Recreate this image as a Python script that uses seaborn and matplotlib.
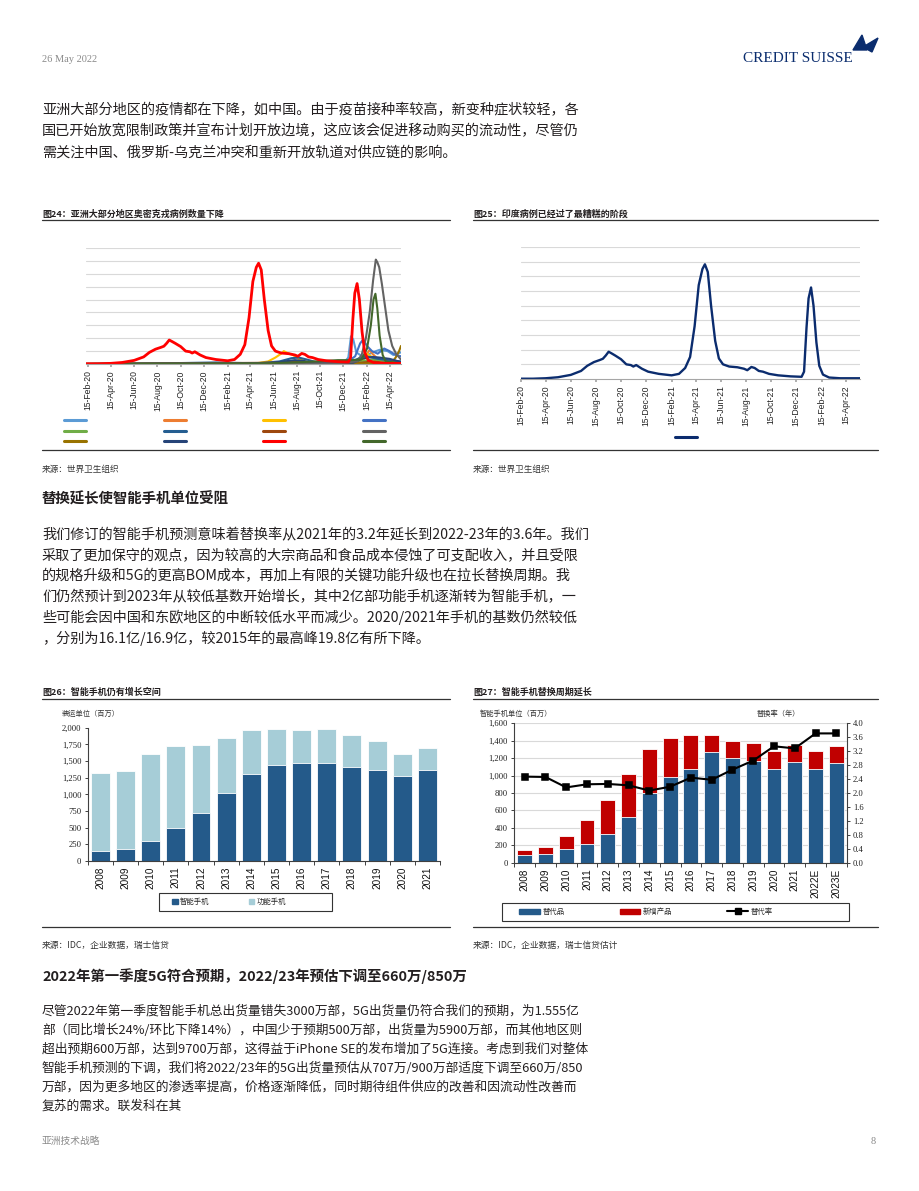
"""Recreation of a Credit Suisse research page: COVID curves and smartphone charts."""

import matplotlib

matplotlib.use("Agg")
import matplotlib.dates as mdates
import matplotlib.pyplot as plt
import pandas as pd
import seaborn as sns
from matplotlib.lines import Line2D
from matplotlib.patches import Patch, Polygon, Rectangle

# ---------------------------------------------------------------- data
# Fig 24/25: weekly cases, in gridline units (axis has no labels)
INDIA = [
    ("2020-02-10", 0.02), ("2020-03-15", 0.02), ("2020-04-15", 0.05), ("2020-05-15", 0.12),
    ("2020-06-15", 0.28), ("2020-07-10", 0.55), ("2020-07-25", 0.9), ("2020-08-10", 1.15),
    ("2020-08-25", 1.3), ("2020-09-01", 1.38), ("2020-09-08", 1.6), ("2020-09-15", 1.86),
    ("2020-09-22", 1.75), ("2020-10-01", 1.6), ("2020-10-15", 1.35), ("2020-10-28", 1.0),
    ("2020-11-08", 0.95), ("2020-11-14", 0.85), ("2020-11-21", 0.95), ("2020-12-05", 0.7),
    ("2020-12-20", 0.5), ("2021-01-15", 0.35), ("2021-02-15", 0.25), ("2021-03-05", 0.35),
    ("2021-03-20", 0.75), ("2021-04-01", 1.5), ("2021-04-12", 3.6), ("2021-04-22", 6.4),
    ("2021-05-01", 7.5), ("2021-05-07", 7.82), ("2021-05-14", 7.3), ("2021-05-22", 5.0),
    ("2021-06-01", 2.6), ("2021-06-10", 1.4), ("2021-06-20", 1.0), ("2021-07-05", 0.85),
    ("2021-07-25", 0.8), ("2021-08-10", 0.7), ("2021-08-18", 0.6), ("2021-08-28", 0.82),
    ("2021-09-05", 0.75), ("2021-09-15", 0.55), ("2021-09-25", 0.5), ("2021-10-10", 0.35),
    ("2021-11-01", 0.25), ("2021-12-01", 0.18), ("2021-12-28", 0.15), ("2022-01-03", 0.5),
    ("2022-01-09", 3.5), ("2022-01-14", 5.5), ("2022-01-20", 6.24), ("2022-01-26", 5.0),
    ("2022-02-02", 2.5), ("2022-02-09", 0.9), ("2022-02-18", 0.3), ("2022-03-05", 0.1),
    ("2022-04-01", 0.05), ("2022-05-19", 0.05),
]
LIGHTBLUE = [
    ("2020-02-10", 0.0), ("2020-08-01", 0.05), ("2020-09-15", 0.02), ("2021-12-15", 0.05),
    ("2021-12-28", 0.5), ("2022-01-04", 2.15), ("2022-01-10", 1.9), ("2022-01-18", 0.9),
    ("2022-01-28", 0.7), ("2022-02-10", 0.6), ("2022-03-01", 0.9), ("2022-03-20", 1.1),
    ("2022-04-10", 1.0), ("2022-04-25", 0.7), ("2022-05-15", 0.9),
]
ORANGE = [
    ("2020-02-10", 0.0), ("2022-01-25", 0.05), ("2022-02-10", 0.6), ("2022-02-22", 1.1),
    ("2022-03-01", 0.8), ("2022-03-15", 0.4), ("2022-04-10", 0.15), ("2022-05-15", 0.1),
]
GOLD = [
    ("2020-02-10", 0.0), ("2021-05-01", 0.05), ("2021-06-01", 0.2), ("2021-06-20", 0.5),
    ("2021-07-05", 0.8), ("2021-07-12", 1.0), ("2021-07-22", 0.85), ("2021-08-05", 0.7),
    ("2021-08-20", 0.4), ("2021-09-10", 0.15), ("2021-10-15", 0.05), ("2022-01-20", 0.05),
    ("2022-02-05", 0.3), ("2022-02-15", 0.8), ("2022-02-25", 0.6), ("2022-03-10", 0.2),
    ("2022-04-01", 0.05), ("2022-05-15", 0.03),
]
BLUE = [
    ("2020-02-10", 0.0), ("2021-12-20", 0.05), ("2022-01-15", 0.6), ("2022-01-28", 1.6),
    ("2022-02-05", 1.9), ("2022-02-15", 1.4), ("2022-02-28", 1.0), ("2022-03-15", 0.8),
    ("2022-04-01", 1.2), ("2022-04-15", 1.0), ("2022-05-01", 0.7), ("2022-05-15", 0.6),
]
GREEN = [
    ("2020-02-10", 0.0), ("2021-10-01", 0.1), ("2021-12-15", 0.15), ("2022-02-01", 0.2),
    ("2022-03-01", 0.35), ("2022-03-20", 0.3), ("2022-04-15", 0.15), ("2022-05-15", 0.1),
]
DARKBLUE = [
    ("2020-02-10", 0.0), ("2020-09-01", 0.05), ("2021-01-15", 0.12), ("2021-02-15", 0.1),
    ("2021-05-01", 0.05), ("2021-07-01", 0.2), ("2021-08-01", 0.45), ("2021-08-20", 0.5),
    ("2021-09-10", 0.35), ("2021-10-10", 0.1), ("2021-12-01", 0.05), ("2022-01-15", 0.3),
    ("2022-02-05", 0.6), ("2022-02-20", 0.55), ("2022-03-15", 0.4), ("2022-04-10", 0.3),
    ("2022-05-15", 0.2),
]
BROWN = [
    ("2020-02-10", 0.0), ("2021-07-01", 0.1), ("2021-08-15", 0.2), ("2021-10-01", 0.05),
    ("2022-02-01", 0.1), ("2022-03-01", 0.2), ("2022-04-01", 0.1), ("2022-05-15", 0.05),
]
GREY = [
    ("2020-02-10", 0.0), ("2021-12-01", 0.05), ("2022-01-20", 0.2), ("2022-02-01", 0.7),
    ("2022-02-12", 2.0), ("2022-02-22", 4.0), ("2022-03-03", 6.5), ("2022-03-10", 8.1),
    ("2022-03-14", 7.9), ("2022-03-19", 7.5), ("2022-03-26", 6.2), ("2022-04-03", 4.5),
    ("2022-04-12", 2.6), ("2022-04-22", 1.4), ("2022-05-02", 0.8), ("2022-05-15", 0.35),
]
OLIVE = [
    ("2020-02-10", 0.0), ("2022-03-15", 0.05), ("2022-04-20", 0.1), ("2022-05-01", 0.5),
    ("2022-05-10", 1.0), ("2022-05-15", 1.4),
]
NAVY = [
    ("2020-02-10", 0.0), ("2021-06-01", 0.05), ("2021-08-10", 0.3), ("2021-09-01", 0.25),
    ("2021-10-01", 0.05), ("2022-01-10", 0.1), ("2022-02-01", 0.4), ("2022-03-01", 0.55),
    ("2022-03-20", 0.5), ("2022-04-15", 0.4), ("2022-05-15", 0.15),
]
DARKGREEN = [
    ("2020-02-10", 0.0), ("2021-06-01", 0.05), ("2021-09-01", 0.15), ("2021-11-01", 0.25),
    ("2021-12-01", 0.3), ("2022-01-01", 0.3), ("2022-02-01", 0.35), ("2022-02-15", 1.2),
    ("2022-02-25", 3.0), ("2022-03-04", 5.0), ("2022-03-09", 5.45), ("2022-03-14", 4.3),
    ("2022-03-20", 2.2), ("2022-03-28", 0.7), ("2022-04-05", 0.2), ("2022-05-15", 0.05),
]

# Fig 26: shipments (mn units)
YEARS26 = ["2008", "2009", "2010", "2011", "2012", "2013", "2014",
           "2015", "2016", "2017", "2018", "2019", "2020", "2021"]
SMARTPHONE = [155, 175, 305, 495, 725, 1020, 1300, 1437, 1473, 1465, 1405, 1372, 1280, 1360]
FEATURE = [1165, 1175, 1295, 1225, 1020, 830, 670, 543, 497, 515, 485, 428, 330, 330]

# Fig 27: smartphone units (mn) and replacement cycle (years)
YEARS27 = YEARS26 + ["2022E", "2023E"]
REPLACEMENT = [85, 105, 155, 215, 335, 520, 800, 985, 1070, 1265, 1205, 1170, 1080, 1160, 1080, 1140]
NEW_UNITS = [60, 70, 150, 280, 390, 495, 500, 450, 400, 200, 195, 200, 200, 195, 205, 200]
REPLACE_RATE = [2.47, 2.46, 2.16, 2.25, 2.26, 2.22, 2.07, 2.18, 2.44, 2.38,
                2.67, 2.93, 3.34, 3.28, 3.71, 3.71]

# ---------------------------------------------------------------- style
sns.set_theme(style="white")
plt.rcParams["font.family"] = ["Noto Sans CJK SC", "DejaVu Sans"]
plt.rcParams["axes.unicode_minus"] = False

W, H = 920, 1191
TXT = "#231F20"
SANS = ["Liberation Sans", "DejaVu Sans"]
SERIF = ["Liberation Serif", "DejaVu Serif"]

fig = plt.figure(figsize=(W / 100, H / 100), dpi=100)


def fx(px):
    return px / W


def fy(py):
    return 1 - py / H


def box(left, top, right, bottom):
    return [fx(left), fy(bottom), (right - left) / W, (bottom - top) / H]


def put(x, y, s, size, **kw):
    kw.setdefault("color", TXT)
    fig.text(fx(x), fy(y), s, fontsize=size, va="center", ha="left", **kw)


def rule(x0, x1, y, lw=0.9, color="#333333"):
    fig.add_artist(Line2D([fx(x0), fx(x1)], [fy(y), fy(y)], color=color, lw=lw,
                          transform=fig.transFigure))


# ---------------------------------------------------------------- page text
put(42, 60, "26 May 2022", 7.5, color="#8A8A8A", family=SERIF)
put(743, 58, "CREDIT SUISSE", 11, color="#0B2D6E", family=SERIF)
for pts in ([(853, 50), (862, 35), (867, 50)], [(863, 47), (878, 38), (872, 52)]):
    fig.add_artist(Polygon([(fx(a), fy(b)) for a, b in pts], closed=True,
                           color="#0B2D6E", transform=fig.transFigure))

para1 = [
    "亚洲大部分地区的疫情都在下降，如中国。由于疫苗接种率较高，新变种症状较轻，各",
    "国已开始放宽限制政策并宣布计划开放边境，这应该会促进移动购买的流动性，尽管仍",
    "需关注中国、俄罗斯-乌克兰冲突和重新开放轨道对供应链的影响。",
]
for i, line in enumerate(para1):
    put(42, 110 + i * 21.5, line, 10.2)

put(42, 499, "替换延长使智能手机单位受阻", 10.4, weight="bold")
para2 = [
    "我们修订的智能手机预测意味着替换率从2021年的3.2年延长到2022-23年的3.6年。我们",
    "采取了更加保守的观点，因为较高的大宗商品和食品成本侵蚀了可支配收入，并且受限",
    "的规格升级和5G的更高BOM成本，再加上有限的关键功能升级也在拉长替换周期。我",
    "们仍然预计到2023年从较低基数开始增长，其中2亿部功能手机逐渐转为智能手机，一",
    "些可能会因中国和东欧地区的中断较低水平而减少。2020/2021年手机的基数仍然较低",
    "，分别为16.1亿/16.9亿，较2015年的最高峰19.8亿有所下降。",
]
for i, line in enumerate(para2):
    put(42, 535 + i * 20.7, line, 10.2)

put(42, 976, "2022年第一季度5G符合预期，2022/23年预估下调至660万/850万", 10.4, weight="bold")
para3 = [
    "尽管2022年第一季度智能手机总出货量错失3000万部，5G出货量仍符合我们的预期，为1.555亿",
    "部（同比增长24%/环比下降14%），中国少于预期500万部，出货量为5900万部，而其他地区则",
    "超出预期600万部，达到9700万部，这得益于iPhone SE的发布增加了5G连接。考虑到我们对整体",
    "智能手机预测的下调，我们将2022/23年的5G出货量预估从707万/900万部适度下调至660万/850",
    "万部，因为更多地区的渗透率提高，价格逐渐降低，同时期待组件供应的改善和因流动性改善而",
    "复苏的需求。联发科在其",
]
for i, line in enumerate(para3):
    put(42, 1011 + i * 19, line, 9.2)

put(42, 1141, "亚洲技术战略", 7, color="#8A8A8A")
put(871, 1141, "8", 7.5, color="#8A8A8A", family=SERIF)

# chart frames
put(42, 214, "图24：亚洲大部分地区奥密克戎病例数量下降", 6.5, weight="bold")
put(473, 214, "图25：印度病例已经过了最糟糕的阶段", 6.5, weight="bold")
rule(42, 450, 220)
rule(473, 878, 220)
rule(42, 450, 450)
rule(473, 878, 450)
put(42, 469, "来源：世界卫生组织", 6.2, color="#333333")
put(473, 469, "来源：世界卫生组织", 6.2, color="#333333")

put(42, 692, "图26：智能手机仍有增长空间", 6.5, weight="bold")
put(473, 692, "图27：智能手机替换周期延长", 6.5, weight="bold")
rule(42, 450, 699)
rule(473, 878, 699)
rule(42, 450, 927)
rule(473, 878, 927)
put(42, 945, "来源：IDC，企业数据，瑞士信贷", 6.3, color="#333333")
put(473, 945, "来源：IDC，企业数据，瑞士信贷估计", 6.3, color="#333333")


# ---------------------------------------------------------------- covid charts
def to_frame(name, points):
    df = pd.DataFrame(points, columns=["date", "cases"])
    df["date"] = pd.to_datetime(df["date"])
    df["series"] = name
    return df


def style_dates(ax, start, end):
    ax.set_xlim(pd.Timestamp(start), pd.Timestamp(end))
    ax.set_ylim(0, 9)
    ax.set_yticks(range(1, 10))
    ax.yaxis.grid(True, color="#D9D9D9", lw=0.8)
    ax.xaxis.grid(False)
    ax.xaxis.set_major_locator(mdates.MonthLocator(bymonth=[2, 4, 6, 8, 10, 12], bymonthday=15))
    ax.xaxis.set_major_formatter(mdates.DateFormatter("%d-%b-%y"))
    ax.tick_params(axis="y", length=0, labelleft=False)
    ax.tick_params(axis="x", bottom=True, length=2.5, color="#A6A6A6", pad=2,
                   labelsize=6.2, labelrotation=90, labelcolor="#222222")
    for lab in ax.get_xticklabels():
        lab.set_family(SANS)
    for side in ("left", "right", "top"):
        ax.spines[side].set_visible(False)
    ax.spines["bottom"].set_color("#A6A6A6")
    ax.spines["bottom"].set_linewidth(0.8)
    ax.set_xlabel("")
    ax.set_ylabel("")


PALETTE24 = {
    "lightblue": "#5B9BD5", "orange": "#ED7D31", "gold": "#FFC000", "blue": "#4472C4",
    "green": "#70AD47", "darkblue": "#255E91", "brown": "#9E480E", "grey": "#636363",
    "olive": "#997300", "navy": "#264478", "india": "#FF0000", "darkgreen": "#43682B",
}
SERIES24 = {
    "lightblue": LIGHTBLUE, "orange": ORANGE, "gold": GOLD, "blue": BLUE, "green": GREEN,
    "darkblue": DARKBLUE, "brown": BROWN, "olive": OLIVE, "navy": NAVY, "grey": GREY,
    "darkgreen": DARKGREEN, "india": INDIA,
}
df24 = pd.concat([to_frame(k, v) for k, v in SERIES24.items()], ignore_index=True)

ax24 = fig.add_axes(box(86, 248, 401, 364))
minor = [k for k in SERIES24 if k != "india"]
sns.lineplot(data=df24[df24["series"] != "india"], x="date", y="cases", hue="series",
             hue_order=minor, palette=PALETTE24, estimator=None, legend=False,
             linewidth=1.5, ax=ax24)
sns.lineplot(data=df24[df24["series"] == "india"], x="date", y="cases",
             color=PALETTE24["india"], estimator=None, linewidth=2.0, ax=ax24)
style_dates(ax24, "2020-02-10", "2022-05-15")

# legend with blank labels, filled row by row (4 columns x 3 rows)
rows = [["lightblue", "orange", "gold", "blue"],
        ["green", "darkblue", "brown", "grey"],
        ["olive", "navy", "india", "darkgreen"]]
col_major = [rows[r][c] for c in range(4) for r in range(3)]
handles = [Line2D([], [], color=PALETTE24[k], lw=2.2) for k in col_major]
fig.legend(handles, [""] * len(handles), ncol=4, loc="upper left", frameon=False,
           bbox_to_anchor=(fx(64), fy(416)), bbox_transform=fig.transFigure,
           fontsize=6, handlelength=2.64, handletextpad=0, columnspacing=9.3,
           labelspacing=0.2, borderpad=0, borderaxespad=0)

ax25 = fig.add_axes(box(521, 247, 860, 379))
sns.lineplot(data=to_frame("india", INDIA), x="date", y="cases", color="#0B2C6E",
             estimator=None, linewidth=1.7, ax=ax25)
style_dates(ax25, "2020-02-15", "2022-05-19")
fig.legend([Line2D([], [], color="#0B2C6E", lw=2.2)], [""], loc="upper left",
           frameon=False, bbox_to_anchor=(fx(675), fy(433)), bbox_transform=fig.transFigure,
           fontsize=6, handlelength=2.6, handletextpad=0, borderpad=0, borderaxespad=0)


# ---------------------------------------------------------------- smartphone charts
def style_bars(ax, labels):
    ax.set_xlim(-0.5, len(labels) - 0.5)
    ax.set_xticks(range(len(labels)))
    ax.set_xticklabels(labels, rotation=90, fontsize=7.2, family=SANS, color="#111111")
    ax.set_xticks([i + 0.5 for i in range(-1, len(labels))], minor=True)
    ax.tick_params(axis="x", which="major", bottom=True, length=0, pad=4)
    ax.tick_params(axis="x", which="minor", bottom=True, length=3, color="#404040", width=0.7)
    ax.tick_params(axis="y", left=True, length=2.5, color="#404040", width=0.7, pad=2,
                   labelsize=6.2, labelcolor="#222222")
    for lab in ax.get_yticklabels():
        lab.set_family(SERIF)
    for side in ("top", "right"):
        ax.spines[side].set_visible(False)
    for side in ("left", "bottom"):
        ax.spines[side].set_color("#404040")
        ax.spines[side].set_linewidth(0.8)
    ax.set_xlabel("")
    ax.set_ylabel("")


DARK_BLUE = "#245A8A"
LIGHT_BLUE = "#A6CDD7"
RED = "#C00000"

# Fig 26
total26 = [s + f for s, f in zip(SMARTPHONE, FEATURE)]
ax26 = fig.add_axes(box(87.7, 727.7, 440, 861))
sns.barplot(x=YEARS26, y=total26, color=LIGHT_BLUE, saturation=1, width=0.75,
            edgecolor="white", linewidth=0.6, ax=ax26)
sns.barplot(x=YEARS26, y=SMARTPHONE, color=DARK_BLUE, saturation=1, width=0.75,
            edgecolor="white", linewidth=0.6, ax=ax26)
ax26.set_ylim(0, 2000)
ax26.set_yticks(range(0, 2001, 250))
ax26.set_yticklabels([f"{v:,}" for v in range(0, 2001, 250)])
style_bars(ax26, YEARS26)
put(62, 714, "装运单位（百万）", 5.2, color="#333333")

fig.add_artist(Rectangle((fx(159), fy(911)), 173 / W, 18 / H, fill=False,
                         edgecolor="#333333", lw=0.8, transform=fig.transFigure))
fig.legend([Patch(color=DARK_BLUE), Patch(color=LIGHT_BLUE)], ["智能手机", "功能手机"],
           ncol=2, loc="center left", frameon=False, bbox_to_anchor=(fx(172), fy(902)),
           bbox_transform=fig.transFigure, fontsize=5.3, handlelength=0.75,
           handleheight=0.75, handletextpad=0.35, columnspacing=5.3, borderpad=0,
           borderaxespad=0)

# Fig 27
total27 = [r + n for r, n in zip(REPLACEMENT, NEW_UNITS)]
ax27 = fig.add_axes(box(514.3, 723.3, 846.7, 862.7))
ax27.set_axisbelow(True)
sns.barplot(x=YEARS27, y=total27, color=RED, saturation=1, width=0.72,
            edgecolor="white", linewidth=0.6, ax=ax27)
sns.barplot(x=YEARS27, y=REPLACEMENT, color=DARK_BLUE, saturation=1, width=0.72,
            edgecolor="white", linewidth=0.6, ax=ax27)
ax27.set_ylim(0, 1600)
ax27.set_yticks(range(0, 1601, 200))
ax27.set_yticklabels([f"{v:,}" for v in range(0, 1601, 200)])
ax27.yaxis.grid(True, color="#D9D9D9", lw=0.8)

ax27r = ax27.twinx()
sns.pointplot(x=YEARS27, y=REPLACE_RATE, color="black", markers="s", linestyles="-",
              markersize=4.2, linewidth=1.5, ax=ax27r)
ax27r.set_ylim(0, 4.0)
ax27r.set_yticks([i * 0.4 for i in range(11)])
ax27r.set_yticklabels([f"{i * 0.4:.1f}" for i in range(11)], family=SERIF)
ax27r.tick_params(axis="y", right=True, length=2.5, color="#404040", width=0.7, pad=2,
                  labelsize=6.2, labelcolor="#222222")
ax27r.grid(False)
for side in ("top", "left", "bottom"):
    ax27r.spines[side].set_visible(False)
ax27r.spines["right"].set_color("#404040")
ax27r.spines["right"].set_linewidth(0.8)
ax27r.set_ylabel("")
style_bars(ax27, YEARS27)
ax27.spines["right"].set_visible(False)

put(480, 714, "智能手机单位（百万）", 5.2, color="#333333")
put(757, 714, "替换率（年）", 5.2, color="#333333")

fig.add_artist(Rectangle((fx(502), fy(921)), 347 / W, 18 / H, fill=False,
                         edgecolor="#333333", lw=0.8, transform=fig.transFigure))
fig.legend([Patch(color=DARK_BLUE), Patch(color=RED),
            Line2D([], [], color="black", lw=1.5, marker="s", markersize=4.2)],
           ["替代品", "新增产品", "替代率"], ncol=3, loc="center left", frameon=False,
           bbox_to_anchor=(fx(519), fy(912)), bbox_transform=fig.transFigure,
           fontsize=5.3, handlelength=2.85, handleheight=0.75, handletextpad=0.3,
           columnspacing=7.5, borderpad=0, borderaxespad=0)

fig.savefig("out.png", dpi=100, facecolor="white")
